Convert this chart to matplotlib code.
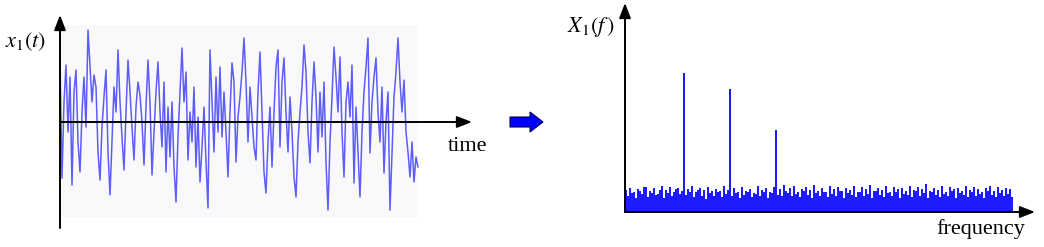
import numpy as np
import matplotlib
matplotlib.use('Agg')
import matplotlib.pyplot as plt
from matplotlib.patches import FancyArrow

plt.rcParams['mathtext.fontset'] = 'stix'

# time signal x1(t), amplitude (arbitrary units, 0 = time axis)
x1_t = [64, -56, 20, 57, -10, 45, -63, 30, 52, -20,
        -50, 10, 45, -5, 92, 55, 20, 47, 35, -30,
        -58, -5, 25, 52, -30, -73, -20, 35, 10, 72,
        20, -15, -48, 10, 62, 30, -5, -38, 15, 40,
        27, 0, -43, 15, 62, 20, -53, -10, 30, 60,
        10, -25, 40, -50, 15, -35, 20, -45, -80, -15,
        30, 74, 20, 50, -38, 10, -20, 35, -45, 5,
        -60, -25, 15, -40, -86, 72, 20, -30, 45, -10,
        55, -15, 30, -10, -55, 10, 59, 40, -40, 5,
        25, 50, 84, 40, -20, 35, 5, -25, -38, 30,
        70, 10, -50, -71, -20, 15, -45, 10, 55, 72,
        -25, 40, 64, 10, -30, 25, -10, -55, -75, -20,
        10, 35, 77, 50, -10, -41, 20, 60, 25, -30,
        30, -15, 40, -40, -88, -20, 25, 75, 45, 10,
        65, -10, -55, 20, 40, 5, 57, -61, 15, -30,
        -75, -10, 30, 55, 84, -31, 20, 45, 64, 10,
        -20, 35, -51, 0, 30, -88, -30, 25, 50, 84,
        40, 10, 42, -10, -30, -55, -20, -60, -35, -45]

# magnitude spectrum |X1(f)|: noise floor with three tones
X1_f = [22, 16, 24, 19, 20, 14, 23, 21, 18, 25,
        25, 15, 21, 19, 24, 17, 18, 22, 26, 14,
        22, 19, 25, 16, 20, 23, 24, 18, 21, 139,
        17, 23, 20, 26, 15, 20, 22, 24, 16, 22,
        13, 25, 19, 21, 16, 23, 20, 21, 15, 26,
        18, 22, 123, 16, 24, 19, 20, 14, 25, 17,
        21, 20, 23, 15, 19, 18, 26, 16, 22, 20,
        24, 14, 20, 19, 25, 82, 17, 23, 16, 27,
        21, 19, 24, 16, 26, 18, 20, 15, 23, 21,
        25, 17, 22, 14, 27, 19, 21, 16, 24, 20,
        20, 15, 26, 18, 23, 16, 25, 21, 21, 14,
        24, 19, 22, 17, 26, 15, 20, 20, 25, 16,
        23, 18, 27, 14, 21, 21, 24, 17, 22, 15,
        26, 19, 20, 16, 25, 20, 23, 14, 24, 18,
        21, 17, 26, 15, 22, 21, 25, 16, 23, 19,
        28, 14, 21, 20, 24, 17, 22, 15, 26, 18,
        20, 16, 25, 21, 23, 14, 24, 19, 21, 17,
        26, 15, 22, 20, 25, 16, 23, 18, 20, 14,
        24, 21, 26, 17, 21, 15, 25, 19, 22, 16,
        24, 18, 23, 15]

W, H = 1044, 247
fig = plt.figure(figsize=(W / 100, H / 100), dpi=100)


def px_axes(left, right, top, bottom):
    return fig.add_axes([left / W, (H - bottom) / H, (right - left) / W, (bottom - top) / H])


def arrow_axes(ax, y0):
    kw = dict(arrowstyle='-|>,head_length=0.9,head_width=0.35', color='black', lw=1.4,
              shrinkA=0, shrinkB=0)
    ax.annotate('', xy=(0, 1), xytext=(0, 0), xycoords='axes fraction', arrowprops=kw)
    ax.annotate('', xy=(1, y0), xytext=(0, y0), xycoords='axes fraction', arrowprops=kw)
    ax.set_axis_off()


# left: time signal
ax1 = px_axes(60, 472, 15, 228)
t = np.arange(len(x1_t))
ax1.fill_between(t, -95, 97, color='#f9f9fb', lw=0, zorder=0)
ax1.plot(t, x1_t, color='#0a0aff', lw=1.1, alpha=0.65, zorder=2)
ax1.set_xlim(0, 206)
ax1.set_ylim(-106, 107)
arrow_axes(ax1, 106 / 213)
fig.text(26 / W, (H - 42) / H, r'$x_1(t)$', fontsize=16, ha='center', va='center')
fig.text(468 / W, (H - 146) / H, 'time', fontsize=16, ha='center', va='center',
         family='Liberation Serif')

# block arrow between panels
fig.add_artist(FancyArrow(510 / W, (H - 122) / H, 33 / W, 0, width=10 / H,
                          head_width=20 / H, head_length=13 / W,
                          length_includes_head=True, transform=fig.transFigure,
                          facecolor='#0000ff', edgecolor='#000060', lw=0.8))

# right: spectrum
ax2 = px_axes(625, 1035, 3, 212)
f = np.arange(len(X1_f))
ax2.vlines(f, 0, X1_f, colors='#1c1cff', linewidths=1.45, zorder=2)
ax2.set_xlim(-0.5, 204.5)
ax2.set_ylim(0, 209)
arrow_axes(ax2, 0)
fig.text(591 / W, (H - 27) / H, r'$X_1(f\,)$', fontsize=16, ha='center', va='center')
fig.text(981 / W, (H - 229) / H, 'frequency', fontsize=16, ha='center', va='center',
         family='Liberation Serif')

fig.savefig('out.png', dpi=100)
